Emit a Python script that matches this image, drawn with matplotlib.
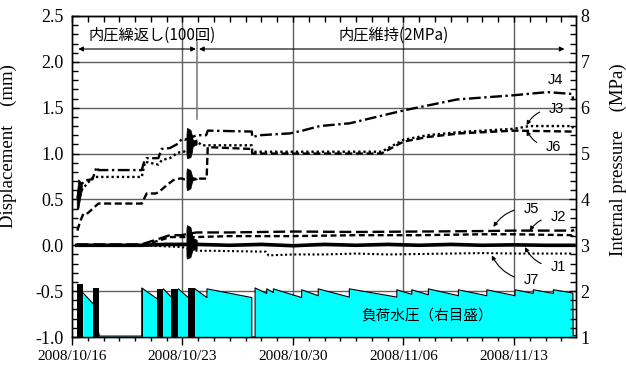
import numpy as np
import matplotlib
matplotlib.use('Agg')
import matplotlib.pyplot as plt
import matplotlib.dates as mdates
from matplotlib.ticker import MultipleLocator, FormatStrFormatter, FixedLocator

plt.rcParams['axes.unicode_minus'] = False

# ---- data (days after 2008/10/16) ----
date_labels = ['2008/10/16', '2008/10/23', '2008/10/30', '2008/11/06', '2008/11/13']

j4_days = [0.34, 0.45, 0.61, 0.9, 1.3, 1.56, 1.67, 4.42, 4.55, 4.73, 5.47, 5.68, 6.21, 6.74, 6.95, 7.15,
           7.9, 8.5, 8.6, 11.39, 11.42, 11.9, 13.8, 14.6, 15.7, 17.6, 21.0, 24.4, 28.0, 30.1, 31.7, 31.75]
j4_vals = [0.51, 0.6, 0.67, 0.71, 0.72, 0.855, 0.82, 0.82, 0.90, 0.95, 0.95, 1.05, 1.06, 1.11, 1.16, 1.15,
           1.2, 1.2, 1.25, 1.24, 1.18, 1.2, 1.22, 1.25, 1.30, 1.33, 1.47, 1.59, 1.636, 1.67, 1.65, 1.58]

j3_days = [0.4, 0.7, 1.0, 1.35, 4.42, 4.63, 5.47, 5.7, 6.2, 6.7, 7.1, 7.9, 8.2, 11.39, 11.42, 15.7,
           19.6, 21.0, 22.5, 24.6, 28.0, 29.0, 31.7, 31.75]
j3_vals = [0.55, 0.62, 0.68, 0.745, 0.745, 0.91, 0.88, 0.93, 0.95, 1.01, 1.02, 1.14, 1.09, 1.09, 1.02, 1.02,
           1.02, 1.15, 1.2, 1.235, 1.27, 1.30, 1.30, 1.27]

j6_days = [0.34, 0.5, 0.72, 1.0, 1.67, 4.42, 4.73, 5.3, 5.5, 6.0, 6.42, 6.9, 7.1, 7.85, 8.53, 8.6,
           11.39, 11.42, 15.7, 19.6, 21.0, 22.5, 24.6, 28.0, 31.7]
j6_vals = [0.16, 0.25, 0.345, 0.35, 0.455, 0.455, 0.565, 0.565, 0.58, 0.655, 0.71, 0.73, 0.72, 0.727, 0.727, 1.07,
           1.05, 1.0, 1.0, 1.0, 1.13, 1.18, 1.22, 1.25, 1.24]

j5_days = [0.3, 4.4, 5.5, 6.2, 6.9, 7.9, 10, 14, 18, 22, 26, 28, 31.7, 31.8]
j5_vals = [0.01, 0.01, 0.07, 0.11, 0.11, 0.14, 0.14, 0.15, 0.145, 0.15, 0.155, 0.16, 0.16, 0.17]

j2_days = [0.3, 4.4, 5.5, 6.2, 6.9, 7.9, 10, 14, 18, 22, 26, 28, 31.7, 31.8]
j2_vals = [0.0, 0.0, 0.05, 0.09, 0.09, 0.09, 0.1, 0.1, 0.11, 0.11, 0.12, 0.12, 0.11, 0.15]

j1_days = [0.3, 2, 4.4, 6, 7.9, 10, 12, 14, 16, 18, 20, 22, 24, 26, 28, 30, 31.8]
j1_vals = [0.0, 0.0, 0.0, 0.01, 0.01, 0.0, 0.01, -0.005, 0.01, 0.0, 0.01, 0.0, 0.01, 0.0, 0.005, 0.0, 0.0]

j7_days = [0.3, 4.4, 7.0, 7.9, 9, 12.3, 12.45, 14, 16, 18, 20, 22, 24, 26, 28, 31.8]
j7_vals = [0.0, 0.0, -0.02, -0.06, -0.06, -0.07, -0.11, -0.1, -0.1, -0.09, -0.1, -0.095, -0.09, -0.085, -0.09, -0.09]

# oscillation blobs during the pressure cycles (day, low, high)
blob_days = [7.25, 7.28, 7.5, 7.6, 7.65, 7.9]
blob_hi_top = [1.2, 1.28, 1.26, 1.2, 1.15, 1.14]
blob_lo_top = [1.0, 0.95, 0.96, 1.02, 1.08, 1.1]
blob_hi_mid = [0.8, 0.84, 0.82, 0.76, 0.74, 0.73]
blob_lo_mid = [0.64, 0.6, 0.62, 0.69, 0.71, 0.72]
blob_hi_zero = [0.18, 0.22, 0.2, 0.12, 0.08, 0.06]
blob_lo_zero = [-0.12, -0.145, -0.13, -0.07, -0.05, -0.04]
early_days = [0.3, 0.4, 0.5, 0.62]
early_hi = [0.55, 0.72, 0.7, 0.68]
early_lo = [0.4, 0.4, 0.5, 0.6]

# water pressure: (start day, end day, start MPa, end MPa)
p_segments = [(0.68, 1.35, 1.97, 1.72), (1.73, 4.42, 1.02, 1.02), (4.42, 5.37, 2.07, 1.84),
              (5.79, 6.27, 2.05, 1.88), (6.74, 7.37, 2.05, 1.86), (7.79, 8.55, 2.05, 1.86),
              (8.55, 11.39, 2.05, 1.86), (11.39, 11.6, 1.0, 1.0), (11.6, 12.34, 2.07, 1.95),
              (12.34, 12.76, 2.05, 1.97), (12.76, 14.55, 2.05, 1.86), (14.55, 15.6, 2.03, 1.9),
              (15.6, 17.57, 2.05, 1.87), (17.57, 20.58, 2.05, 1.87), (20.58, 21.53, 2.03, 1.93),
              (21.53, 22.58, 2.03, 1.92), (22.58, 24.48, 2.05, 1.9), (24.48, 26.28, 2.03, 1.9),
              (26.28, 28.07, 2.03, 1.9), (28.07, 29.23, 2.03, 1.95), (29.23, 30.5, 2.03, 1.95),
              (30.5, 31.73, 2.03, 1.96), (31.75, 31.95, 1.03, 1.03)]
cycle_start = [0.30, 1.35, 4.42, 5.37, 6.27, 7.37]
cycle_end = [0.68, 1.73, 4.52, 5.79, 6.74, 7.79]
cycle_top = [2.15, 2.07, 2.07, 2.05, 2.05, 2.07]

t0 = mdates.datestr2num('2008-10-16')


def X(days):
    return t0 + np.asarray(days, dtype=float)


fig = plt.figure(figsize=(6.26, 3.65), dpi=100)
ax = fig.add_axes([0.1150, 0.0767, 0.8056, 0.8795])
ax2 = ax.twinx()

serif = ['Liberation Serif', 'Noto Sans CJK JP']
jp = ['Noto Sans CJK JP', 'DejaVu Sans']

# grid
grid_c = '#606060'
for v in [-0.5, 0.0, 0.5, 1.0, 1.5, 2.0]:
    ax.axhline(v, color=grid_c, lw=1.0, zorder=0)
for lab in date_labels[1:]:
    ax.axvline(mdates.datestr2num(lab.replace('/', '-')), color=grid_c, lw=1.0, zorder=0)

# displacement lines
ax.plot(X(j4_days), j4_vals, color='k', lw=1.7, ls=(0, (5, 1.5, 1, 1.5)))
ax.plot(X(j3_days), j3_vals, color='k', lw=1.7, ls=(0, (1, 1.2)))
ax.plot(X(j6_days), j6_vals, color='k', lw=1.7, ls=(0, (3, 1.5)))
ax.plot(X(j5_days), j5_vals, color='k', lw=1.7, ls=(0, (5, 2)))
ax.plot(X(j2_days), j2_vals, color='k', lw=1.7, ls=(0, (2.5, 1.5)))
ax.plot(X(j1_days), j1_vals, color='k', lw=2.6)
ax.plot(X(j7_days), j7_vals, color='k', lw=1.5, ls=(0, (1, 1.2)))

for lo, hi in [(blob_lo_top, blob_hi_top), (blob_lo_mid, blob_hi_mid), (blob_lo_zero, blob_hi_zero)]:
    ax.fill_between(X(blob_days), lo, hi, color='k', lw=0.5)
ax.fill_between(X(early_days), early_lo, early_hi, color='k', lw=0.5)

# pressure (right axis)
p_days, p_vals = [], []
for s, e, ps, pe in p_segments:
    p_days += [s, e]
    p_vals += [ps, pe]
ax2.fill_between(X(p_days), 1.0, p_vals, color='#00ffff', lw=0)
ax2.plot(X(p_days), p_vals, color='k', lw=0.8)
for s, e, top in zip(cycle_start, cycle_end, cycle_top):
    ax2.fill_between(X([s, e]), 1.0, top, color='k', lw=0)

# axes ranges and ticks
ax.set_xlim(t0, t0 + 31.95)
ax.set_ylim(-1.0, 2.5)
ax2.set_ylim(1, 8)

major_x = [mdates.datestr2num(l.replace('/', '-')) for l in date_labels]
ax.xaxis.set_major_locator(FixedLocator(major_x))
ax.xaxis.set_major_formatter(mdates.DateFormatter('%Y/%m/%d'))
ax.xaxis.set_minor_locator(mdates.DayLocator())
ax.tick_params(axis='x', which='major', direction='out', length=6, width=1, pad=3, labelsize=11)
ax.tick_params(axis='x', which='minor', direction='out', length=3, width=1)
for t in ax.get_xticklabels():
    t.set_family(serif)

top = ax.secondary_xaxis('top')
top.xaxis.set_major_locator(FixedLocator(major_x))
top.xaxis.set_minor_locator(mdates.DayLocator())
top.tick_params(which='both', direction='in', length=4, width=1, labeltop=False)

ax.yaxis.set_major_locator(MultipleLocator(0.5))
ax.yaxis.set_minor_locator(MultipleLocator(0.1))
ax.yaxis.set_major_formatter(FormatStrFormatter('%.1f'))
ax.tick_params(axis='y', which='major', direction='in', length=5, width=1, pad=6, labelsize=13)
ax.tick_params(axis='y', which='minor', direction='in', length=4, width=1)
ax2.yaxis.set_major_locator(MultipleLocator(1))
ax2.yaxis.set_minor_locator(MultipleLocator(0.2))
ax2.tick_params(axis='y', which='major', direction='in', length=5, width=1, pad=3, labelsize=13)
ax2.tick_params(axis='y', which='minor', direction='in', length=4, width=1)
for t in ax.get_yticklabels() + ax2.get_yticklabels():
    t.set_family(serif)

ax.set_ylabel('Displacement\u3000(mm)', family=serif, fontsize=13.5)
ax.yaxis.set_label_coords(-0.109, 0.595)
ax2.set_ylabel('Internal pressure\u3000(MPa)', family=serif, fontsize=13.5, rotation=90)
ax2.yaxis.set_label_coords(1.066, 0.551)

for a in (ax, ax2):
    for sp in a.spines.values():
        sp.set_linewidth(1.0)

# phase arrows and labels
arrow = dict(arrowstyle='<|-|>', lw=0.8, color='k', mutation_scale=7, shrinkA=0, shrinkB=0)
ax.annotate('', xy=(t0 + 0.4, 2.14), xytext=(t0 + 7.85, 2.14), arrowprops=arrow)
ax.annotate('', xy=(t0 + 8.05, 2.14), xytext=(t0 + 31.2, 2.14), arrowprops=arrow)
ax.plot([t0 + 7.95, t0 + 7.95], [2.22, 1.38], color='#808080', lw=1.2)
ax.text(t0 + 5.07, 2.29, '内圧繰返し(100回)', family=jp, fontsize=11, ha='center', va='center')
ax.text(t0 + 20.4, 2.29, '内圧維持(2MPa)', family=jp, fontsize=11, ha='center', va='center')
ax2.text(t0 + 22.5, 1.47, '負荷水圧（右目盛）', family=jp, fontsize=10.5, ha='center', va='center')

# series labels
ax.text(t0 + 30.6, 1.80, 'J4', family='Liberation Sans', fontsize=10.5, ha='center', va='center')
labels = [('J3', 30.7, 1.49, 28.8, 1.31, 0.3), ('J6', 30.5, 1.07, 28.8, 1.25, -0.3),
          ('J5', 29.1, 0.40, 26.7, 0.20, 0.3), ('J2', 30.8, 0.305, 29.0, 0.16, 0.3),
          ('J1', 30.8, -0.24, 28.7, -0.02, -0.3), ('J7', 29.1, -0.38, 26.6, -0.11, -0.3)]
for name, tx, ty, px, py, rad in labels:
    ax.annotate(name, xy=(t0 + px, py), xytext=(t0 + tx, ty), family='Liberation Sans', fontsize=10.5,
                ha='center', va='center',
                arrowprops=dict(arrowstyle='-|>', lw=0.8, color='k', mutation_scale=6,
                                connectionstyle='arc3,rad=%s' % rad, shrinkA=5, shrinkB=0))

fig.savefig('out.png', dpi=100)
